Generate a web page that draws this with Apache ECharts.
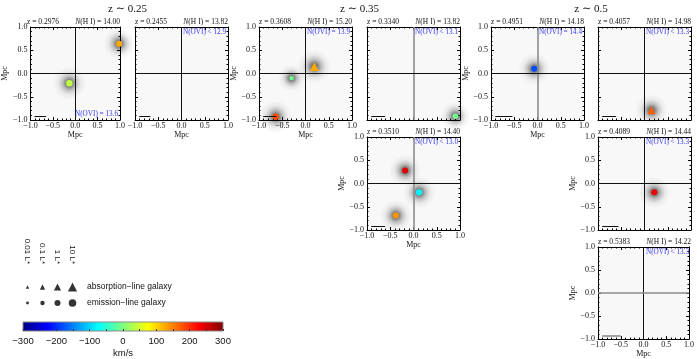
<!DOCTYPE html>
<html>
<head>
<meta charset="utf-8">
<script src="https://cdn.jsdelivr.net/npm/echarts@6/dist/echarts.min.js"></script>
<style>
    html, body { margin: 0; padding: 0; background: #fff; }
    #chart { width: 697px; height: 359px; }
</style>
</head>
<body>
<div id="chart"></div>
<script>
// redshift groups (title, first/last panel index)
const groupTitles = ['z \u223C 0.25', 'z \u223C 0.35', 'z \u223C 0.5'];
const groupPanels = [[0, 1], [2, 3], [4, 5]];

// one entry per panel
const panelZ = ['0.2976', '0.2455', '0.3608', '0.3340', '0.4951', '0.4057', '0.3510', '0.4089', '0.5383'];
const panelNHI = ['14.00', '13.82', '15.20', '13.82', '14.18', '14.98', '14.40', '14.44', '14.22'];
const panelNOVI = ['= 13.6', '< 12.9', '= 13.9', '< 13.1', '= 14.4', '< 13.3', '< 13.0', '< 13.3', '< 13.3'];
const scaleBarMpc = [0.26, 0.24, 0.28, 0.30, 0.37, 0.30, 0.30, 0.35, 0.41];

// galaxies: [panel, x (Mpc), y (Mpc), velocity (km/s), luminosity (L*), type]
const galaxies = [
    [0, -0.13, -0.21, 37, 2, 'em'],
    [0, 0.98, 0.64, 126, 1, 'em'],
    [2, 0.19, 0.15, 125, 3, 'abs'],
    [2, -0.30, -0.10, -10, 0.1, 'em'],
    [2, -0.64, -0.93, 180, 1.5, 'em'],
    [3, 0.90, -0.92, -10, 0.4, 'em'],
    [4, -0.07, 0.10, -180, 1, 'em'],
    [5, 0.15, -0.79, 170, 1, 'abs'],
    [6, -0.18, 0.28, 243, 1, 'em'],
    [6, 0.12, -0.19, -80, 1.5, 'em'],
    [6, -0.38, -0.69, 138, 1, 'em'],
    [7, 0.21, -0.19, 235, 1, 'em'],
];

// legend + colour bar
const lumLegend = [0.01, 0.1, 1, 10];
const lumLabels = ['0.01 L*', '0.1 L*', '1 L*', '10 L*'];
const typeLabels = ['absorption\u2212line galaxy', 'emission\u2212line galaxy'];
const typeKeys = ['abs', 'em'];
const velRange = [-300, 300];

// ---- layout / style ----
const P = 93;
const panelPos = [[27, 27], [135, 27], [259, 27], [367, 27], [491, 27], [598, 27], [367, 137], [598, 137], [598, 247]];
const showX = [true, true, true, false, true, false, true, false, true];
const showY = [true, false, true, false, true, false, true, true, true];
const vGray = [false, false, false, true, true, false, true, false, false];
const hGray = [false, false, false, false, false, false, false, false, true];
const barGray = [false, false, false, false, false, false, false, false, true];
const noviBottom = [true, false, false, false, false, false, false, false, false];
const jet = ['#00007f', '#0000ff', '#007fff', '#00ffff', '#7fff7f', '#ffff00', '#ff7f00', '#ff0000', '#7f0000'];
const serif = '"Liberation Serif", "DejaVu Serif", serif';
const sans = '"Liberation Sans", Arial, sans-serif';

const lumSize = (L) => 6 + 1.6 * Math.log10(L);
const fmt = (v) => (v < 0 ? '\u2212' : '') + Math.abs(v).toFixed(1);

// soft gaussian-like smudge under each galaxy
const glowColor = {
    type: 'radial', x: 0.5, y: 0.5, r: 0.5,
    colorStops: [
        { offset: 0, color: 'rgba(0,0,0,0.62)' },
        { offset: 0.2, color: 'rgba(0,0,0,0.48)' },
        { offset: 0.42, color: 'rgba(0,0,0,0.22)' },
        { offset: 0.68, color: 'rgba(0,0,0,0.06)' },
        { offset: 1, color: 'rgba(0,0,0,0)' },
    ],
};

const grid = [], xAxis = [], yAxis = [], series = [], graphic = [];
const galaxySeries = [];

const frameAxis = (extra) => ({
    min: -1, max: 1, interval: 0.5,
    axisLine: { show: true, onZero: false, lineStyle: { color: '#000', width: 1 } },
    axisTick: { show: true, inside: true, length: 3, lineStyle: { color: '#000' } },
    minorTick: { show: true, splitNumber: 5, length: 1.5, lineStyle: { color: '#000' } },
    splitLine: { show: false },
    axisLabel: { show: false },
    ...extra,
});

panelPos.forEach(([left, top], i) => {
    grid.push({ left, top, width: P, height: P, show: true, backgroundColor: '#f8f8f8', borderWidth: 0 });
    const lab = { show: true, fontFamily: serif, fontSize: 8, color: '#111', formatter: fmt };
    xAxis.push(frameAxis({
        gridIndex: i, type: 'value', position: 'bottom',
        axisLabel: showX[i] ? { ...lab, margin: 2 } : { show: false },
        name: showX[i] ? 'Mpc' : '', nameLocation: 'middle', nameGap: 10,
        nameTextStyle: { fontFamily: serif, fontSize: 8, color: '#111' },
    }));
    xAxis.push(frameAxis({ gridIndex: i, type: 'value', position: 'top' }));
    yAxis.push(frameAxis({
        gridIndex: i, type: 'value', position: 'left',
        axisLabel: showY[i] ? { ...lab, margin: 3 } : { show: false },
        name: showY[i] ? 'Mpc' : '', nameLocation: 'middle', nameGap: 17,
        nameTextStyle: { fontFamily: serif, fontSize: 8, color: '#111' },
    }));
    yAxis.push(frameAxis({ gridIndex: i, type: 'value', position: 'right' }));

    const mine = galaxies.filter((g) => g[0] === i);
    const x0 = -0.91, y0 = -0.93;
    series.push({
        type: 'scatter', xAxisIndex: 2 * i, yAxisIndex: 2 * i, z: 2, silent: true,
        symbol: 'circle',
        symbolSize: (v) => 32 + 5 * Math.log10(v[2]),
        data: mine.map((g) => [g[1], g[2], g[4]]),
        itemStyle: { color: glowColor, opacity: 1 },
        markLine: {
            silent: true, symbol: ['none', 'none'], label: { show: false }, animation: false,
            emphasis: { disabled: true },
            data: [
                { xAxis: 0, lineStyle: { color: vGray[i] ? '#8c8c8c' : '#111', width: vGray[i] ? 1.6 : 1, type: 'solid' } },
                { yAxis: 0, lineStyle: { color: hGray[i] ? '#8c8c8c' : '#111', width: hGray[i] ? 1.6 : 1, type: 'solid' } },
                [
                    { coord: [x0, y0], lineStyle: { color: barGray[i] ? '#8c8c8c' : '#111', width: barGray[i] ? 1.6 : 1, type: 'solid' } },
                    { coord: [x0 + scaleBarMpc[i], y0] },
                ],
            ],
        },
    });
    galaxySeries.push(series.length);
    series.push({
        type: 'scatter', xAxisIndex: 2 * i, yAxisIndex: 2 * i, z: 4, silent: true,
        symbol: (v) => (v[4] === 'abs' ? 'triangle' : 'circle'),
        symbolSize: (v) => lumSize(v[3]) * (v[4] === 'abs' ? 1.3 : 1),
        data: mine.map((g) => [g[1], g[2], g[3], g[4], g[5]]),
        itemStyle: { borderWidth: 0, opacity: 1 },
    });

    graphic.push({
        type: 'text', x: left, y: top - 1, silent: true,
        style: { text: 'z = ' + panelZ[i], font: `7.5px ${serif}`, fill: '#111', align: 'left', verticalAlign: 'bottom' },
    });
    graphic.push({
        type: 'text', x: left + P, y: top - 1, silent: true,
        style: {
            text: '{i|N}(H I) = ' + panelNHI[i], fontSize: 7.5, fontFamily: serif, fill: '#111',
            align: 'right', verticalAlign: 'bottom',
            rich: { i: { fontStyle: 'italic', fontSize: 7.5, fontFamily: serif, fill: '#111' } },
        },
    });
    graphic.push({
        type: 'text', x: left + P - 2, y: noviBottom[i] ? top + P - 2 : top + 2, silent: true, z: 10,
        style: {
            text: 'N(OVI) ' + panelNOVI[i], font: `7.2px ${serif}`, fill: '#3a3af2',
            align: 'right', verticalAlign: noviBottom[i] ? 'bottom' : 'top',
        },
    });
});

groupTitles.forEach((t, k) => {
    const [a, b] = groupPanels[k];
    const cx = (panelPos[a][0] + panelPos[b][0] + P) / 2;
    graphic.push({
        type: 'text', x: cx, y: 9, silent: true,
        style: { text: t, font: `11px ${serif}`, fill: '#111', align: 'center', verticalAlign: 'middle' },
    });
});

// legend grid
const gLeg = grid.length;
grid.push({ left: 20, top: 279, width: 60, height: 32 });
xAxis.push({
    gridIndex: gLeg, type: 'category', position: 'top', data: lumLabels,
    axisLine: { show: false }, axisTick: { show: false }, splitLine: { show: false },
    axisLabel: { rotate: 90, interval: 0, margin: 15, fontFamily: sans, fontSize: 8, color: '#111' },
});
yAxis.push({
    gridIndex: gLeg, type: 'category', position: 'right', data: typeLabels, inverse: true,
    axisLine: { show: false }, axisTick: { show: false }, splitLine: { show: false },
    axisLabel: { margin: 7, fontFamily: sans, fontSize: 8.5, color: '#111' },
});
const legData = [];
typeKeys.forEach((t, r) => lumLegend.forEach((L, c) => legData.push([lumLabels[c], typeLabels[r], L, t])));
series.push({
    type: 'scatter', xAxisIndex: xAxis.length - 1, yAxisIndex: yAxis.length - 1, silent: true,
    symbol: (v) => (v[3] === 'abs' ? 'triangle' : 'circle'),
    symbolSize: (v) => lumSize(v[2]) * (v[3] === 'abs' ? 1.2 : 1),
    data: legData,
    itemStyle: { color: '#000' },
});

// colour bar
const gBar = grid.length;
grid.push({ left: 23, top: 322, width: 200, height: 9 });
xAxis.push({
    gridIndex: gBar, type: 'value', min: velRange[0], max: velRange[1], interval: 100, z: 5,
    axisLine: { show: false },
    axisTick: { show: true, inside: true, length: 2, lineStyle: { color: '#333' } },
    minorTick: { show: true, splitNumber: 2, length: 2, lineStyle: { color: '#333' } },
    splitLine: { show: false },
    axisLabel: { margin: 5, fontFamily: sans, fontSize: 9.5, color: '#111', formatter: (v) => (v < 0 ? '\u2212' : '') + Math.abs(v) },
    name: 'km/s', nameLocation: 'middle', nameGap: 17,
    nameTextStyle: { fontFamily: sans, fontSize: 9.5, color: '#111' },
});
yAxis.push({ gridIndex: gBar, type: 'value', min: 0, max: 1, show: false });
series.push({
    type: 'custom', xAxisIndex: xAxis.length - 1, yAxisIndex: yAxis.length - 1, silent: true, z: 1,
    data: [[velRange[0], velRange[1]]],
    renderItem: (params, api) => {
        const p0 = api.coord([api.value(0), 1]);
        const p1 = api.coord([api.value(1), 0]);
        return {
            type: 'rect',
            shape: { x: p0[0], y: p0[1], width: p1[0] - p0[0], height: p1[1] - p0[1] },
            style: {
                fill: new echarts.graphic.LinearGradient(0, 0, 1, 0, jet.map((c, k) => ({ offset: k / (jet.length - 1), color: c }))),
                stroke: '#8a8a8a', lineWidth: 1,
            },
        };
    },
});

const chart = echarts.init(document.getElementById('chart'), null, { renderer: 'canvas' });
chart.setOption({
    backgroundColor: '#fff',
    animation: false,
    grid, xAxis, yAxis, series, graphic,
    visualMap: {
        type: 'continuous', show: false, min: velRange[0], max: velRange[1],
        dimension: 2, seriesIndex: galaxySeries,
        inRange: { color: jet },
    },
});
window.addEventListener('resize', () => chart.resize());
</script>
</body>
</html>
